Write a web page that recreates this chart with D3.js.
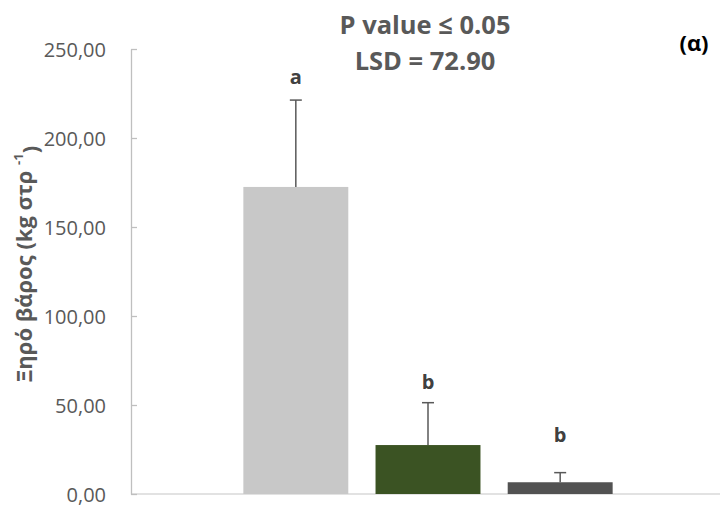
<!DOCTYPE html>
<html>
<head>
<meta charset="utf-8">
<script src="https://cdn.jsdelivr.net/npm/d3@7"></script>
<style>
  html, body { margin: 0; padding: 0; background: #fff; }
  svg { display: block; }
</style>
</head>
<body>
<svg id="chart" width="721" height="506"></svg>
<script>
const categories = ["T1", "T2", "T3"];
const values = [172.5, 27.5, 6.6];
const errors = [48.8, 23.8, 5.4];
const letters = ["a", "b", "b"];
const letterValues = [234, 63, 33];
const colors = ["#c8c8c8", "#3b5323", "#525252"];
const yTicks = [0, 50, 100, 150, 200, 250];
const titleLines = ["P value ≤ 0.05", "LSD = 72.90"];
const panelLabel = "(α)";

const font = "'Open Sans', 'Noto Sans', 'Liberation Sans', sans-serif";
const svg = d3.select("#chart");
const margin = { left: 131, right: 1, top: 49, bottom: 12 };
const W = 721, H = 506;

const y = d3.scaleLinear().domain([0, 250]).range([H - margin.bottom, margin.top]);
const x = d3.scaleBand().domain(categories).range([margin.left, W + 4])
  .paddingInner(0.206).paddingOuter(0.85);

// x axis line
svg.append("line")
  .attr("x1", margin.left).attr("x2", W - margin.right)
  .attr("y1", y(0)).attr("y2", y(0))
  .attr("stroke", "#d9d9d9").attr("stroke-width", 1.5);

// y axis
const yAxis = d3.axisLeft(y).tickValues(yTicks).tickSizeInner(-6).tickSizeOuter(0)
  .tickPadding(25)
  .tickFormat(d => d3.format(".2f")(d).replace(".", ","));
const gy = svg.append("g").attr("transform", `translate(${margin.left},0)`).call(yAxis);
gy.select(".domain").attr("stroke", "#bfbfbf").attr("stroke-width", 1.3);
gy.selectAll(".tick line").attr("stroke", "#bfbfbf").attr("stroke-width", 1.3);
gy.selectAll(".tick text").attr("fill", "#595959").attr("font-family", font)
  .attr("font-size", 20).attr("dy", "0.35em");

// bars
svg.selectAll("rect.bar").data(categories).enter().append("rect")
  .attr("class", "bar")
  .attr("x", d => x(d))
  .attr("width", x.bandwidth())
  .attr("y", (d, i) => y(values[i]))
  .attr("height", (d, i) => y(0) - y(values[i]))
  .attr("fill", (d, i) => colors[i]);

// error bars
const eb = svg.selectAll("g.err").data(categories).enter().append("g").attr("class", "err");
eb.append("line")
  .attr("x1", d => x(d) + x.bandwidth() / 2).attr("x2", d => x(d) + x.bandwidth() / 2)
  .attr("y1", (d, i) => y(values[i])).attr("y2", (d, i) => y(values[i] + errors[i]))
  .attr("stroke", "#595959").attr("stroke-width", 1.5);
eb.append("line")
  .attr("x1", d => x(d) + x.bandwidth() / 2 - 6).attr("x2", d => x(d) + x.bandwidth() / 2 + 6)
  .attr("y1", (d, i) => y(values[i] + errors[i])).attr("y2", (d, i) => y(values[i] + errors[i]))
  .attr("stroke", "#595959").attr("stroke-width", 1.5);

// letters
svg.selectAll("text.letter").data(categories).enter().append("text")
  .attr("class", "letter")
  .attr("x", d => x(d) + x.bandwidth() / 2)
  .attr("y", (d, i) => y(letterValues[i]))
  .attr("text-anchor", "middle").attr("dy", "0.35em")
  .attr("font-family", font).attr("font-weight", "bold").attr("font-size", 20)
  .attr("fill", "#404040")
  .text((d, i) => letters[i]);

// title
svg.selectAll("text.title").data(titleLines).enter().append("text")
  .attr("class", "title")
  .attr("x", 425).attr("y", (d, i) => 25 + i * 36)
  .attr("dy", "0.35em").attr("text-anchor", "middle")
  .attr("font-family", font).attr("font-weight", "bold").attr("font-size", 25.5)
  .attr("fill", "#595959").text(d => d);

// panel label
svg.append("text").attr("x", 694).attr("y", 43).attr("dy", "0.35em")
  .attr("text-anchor", "middle").attr("font-family", font).attr("font-weight", "bold")
  .attr("font-size", 22).attr("fill", "#000").text(panelLabel);

// y label
const yl = svg.append("text")
  .attr("transform", `translate(32,${264}) rotate(-90)`)
  .attr("text-anchor", "middle")
  .attr("font-family", font).attr("font-weight", "bold").attr("font-size", 22)
  .attr("fill", "#595959");
yl.append("tspan").text("Ξηρό βάρος (kg στρ ");
yl.append("tspan").attr("font-size", 13).attr("dy", "-0.7em").text(" -1");
yl.append("tspan").attr("dy", "0.7em").text(")");
</script>
</body>
</html>
